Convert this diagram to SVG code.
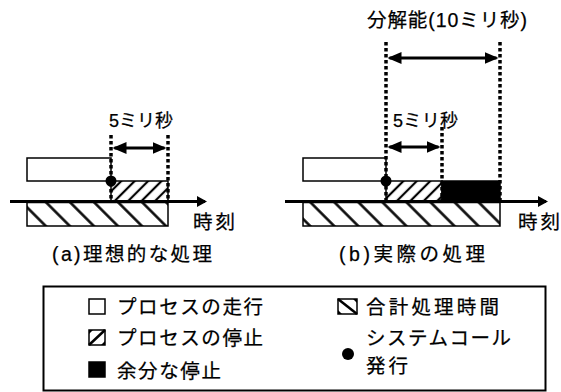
<svg xmlns="http://www.w3.org/2000/svg" width="561" height="392" viewBox="0 0 561 392">
<style>
.t{font-family:"Liberation Sans","Noto Sans CJK JP",sans-serif;font-size:19.5px;fill:#000;stroke:#000;stroke-width:0.25}
.s{font-size:18px}
.dl{stroke:#000;stroke-width:3.5;stroke-dasharray:3.5 2.5;fill:none}
.ax{stroke:#000;stroke-width:3;fill:none}
.dim{stroke:#000;stroke-width:3;fill:none}
.bx{stroke:#000;stroke-width:1.5}
</style>
<defs>
<pattern id="hb" width="17" height="17" patternUnits="userSpaceOnUse" patternTransform="rotate(-45)">
<line x1="8.5" y1="0" x2="8.5" y2="17" stroke="#000" stroke-width="2.5"/>
</pattern>
<pattern id="hs" width="9.5" height="9.5" patternUnits="userSpaceOnUse" patternTransform="rotate(45)">
<line x1="4.75" y1="0" x2="4.75" y2="9.5" stroke="#000" stroke-width="2.2"/>
</pattern>
<marker id="axh" viewBox="0 0 10 11" refX="8" refY="5.5" markerWidth="10" markerHeight="11" markerUnits="userSpaceOnUse" orient="auto">
<path d="M0,0 L10,5.5 L0,11 z" fill="#000"/>
</marker>
<marker id="dh" viewBox="0 0 14 12" refX="12" refY="6" markerWidth="14" markerHeight="12" markerUnits="userSpaceOnUse" orient="auto-start-reverse">
<path d="M0,0 L14,6 L0,12 z" fill="#000"/>
</marker>
</defs>
<rect width="561" height="392" fill="#fff"/>

<g id="panel-a">
<rect id="a-run" class="bx" x="27" y="158" width="84" height="23" fill="#fff"/>
<rect id="a-stop" class="bx" x="111" y="181" width="57" height="20.5" fill="url(#hs)"/>
<rect id="a-total" class="bx" x="27" y="202.5" width="141" height="23.5" fill="url(#hb)"/>
<circle id="a-call" cx="111" cy="181" r="5.5" fill="#000"/>
<text class="t s" x="109" y="127" textLength="64" lengthAdjust="spacing">5ミリ秒</text>
<text class="t" x="193" y="229" textLength="42" lengthAdjust="spacing">時刻</text>
<text class="t" x="52" y="261" textLength="160" lengthAdjust="spacing">(a)理想的な処理</text>
</g>

<g id="panel-b">
<rect id="b-run" class="bx" x="303" y="158" width="83" height="23" fill="#fff"/>
<rect id="b-stop" class="bx" x="386" y="181" width="56" height="20.5" fill="url(#hs)"/>
<rect id="b-extra" class="bx" x="442" y="181" width="58" height="20.5" fill="#000"/>
<rect id="b-total" class="bx" x="303" y="202.5" width="197" height="23.5" fill="url(#hb)"/>
<circle id="b-call" cx="386" cy="181" r="5.5" fill="#000"/>
<text class="t" x="367" y="27" textLength="160" lengthAdjust="spacing">分解能(10ミリ秒)</text>
<text class="t s" x="393" y="127" textLength="65" lengthAdjust="spacing">5ミリ秒</text>
<text class="t" x="518" y="229" textLength="42" lengthAdjust="spacing">時刻</text>
<text class="t" x="339" y="261" textLength="146" lengthAdjust="spacing">(b)実際の処理</text>
</g>

<g id="connectors">
<line class="ax" x1="10" y1="201.5" x2="205" y2="201.5" marker-end="url(#axh)"/>
<line class="ax" x1="285" y1="201.5" x2="546" y2="201.5" marker-end="url(#axh)"/>
<line class="dl" x1="111" y1="135" x2="111" y2="202"/>
<line class="dl" x1="168" y1="135" x2="168" y2="202"/>
<line class="dl" x1="386" y1="42" x2="386" y2="202"/>
<line class="dl" x1="442" y1="127" x2="442" y2="202"/>
<line class="dl" x1="500" y1="42" x2="500" y2="202"/>
<line class="dim" x1="114.5" y1="148" x2="164.5" y2="148" marker-start="url(#dh)" marker-end="url(#dh)"/>
<line class="dim" x1="389.5" y1="147" x2="438.5" y2="147" marker-start="url(#dh)" marker-end="url(#dh)"/>
<line class="dim" x1="389.5" y1="58" x2="496.5" y2="58" marker-start="url(#dh)" marker-end="url(#dh)"/>
</g>

<g id="legend">
<rect x="43.5" y="286.5" width="502" height="104" fill="#fff" stroke="#000" stroke-width="2"/>
<g id="leg-run">
<rect class="bx" x="89" y="299" width="16" height="15" fill="#fff"/>
<text class="t" x="117" y="314" textLength="146" lengthAdjust="spacing">プロセスの走行</text>
</g>
<g id="leg-stop">
<rect class="bx" x="89" y="330" width="16" height="15" fill="#fff"/>
<line x1="89" y1="345" x2="105" y2="330" stroke="#000" stroke-width="2.5"/>
<path d="M89,330 L93,330 L89,334 z M105,345 L101,345 L105,341 z" fill="#000"/>
<text class="t" x="117" y="345" textLength="146" lengthAdjust="spacing">プロセスの停止</text>
</g>
<g id="leg-extra">
<rect class="bx" x="89" y="362" width="16" height="15" fill="#000"/>
<text class="t" x="117" y="378" textLength="104" lengthAdjust="spacing">余分な停止</text>
</g>
<g id="leg-total">
<rect class="bx" x="338" y="299" width="19" height="15" fill="#fff"/>
<line x1="338" y1="299" x2="357" y2="314" stroke="#000" stroke-width="2.5"/>
<path d="M338,314 L342,314 L338,310 z M357,299 L353,299 L357,303 z" fill="#000"/>
<text class="t" x="366" y="314" textLength="133" lengthAdjust="spacing">合計処理時間</text>
</g>
<g id="leg-call">
<circle cx="348" cy="354" r="6" fill="#000"/>
<text class="t" x="366" y="345" textLength="145" lengthAdjust="spacing">システムコール</text>
<text class="t" x="366" y="373" textLength="42" lengthAdjust="spacing">発行</text>
</g>
</g>
</svg>
